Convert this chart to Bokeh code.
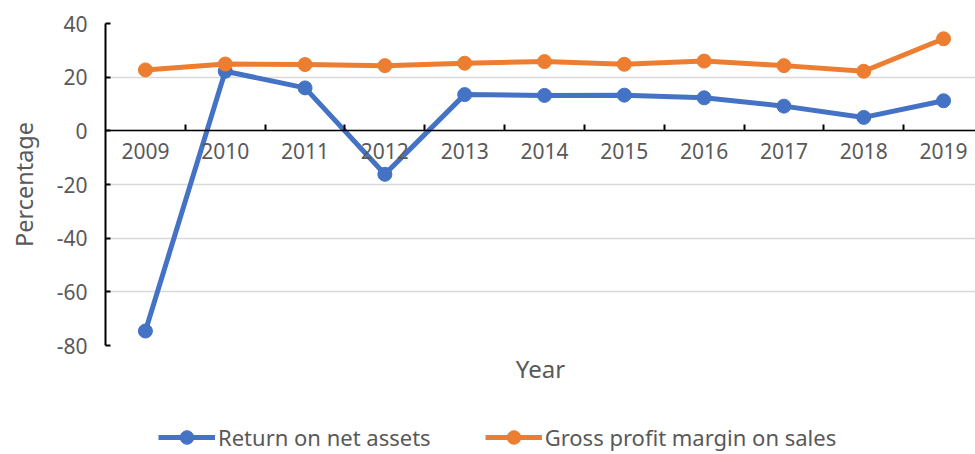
from bokeh.plotting import figure
from bokeh.layouts import column
from bokeh.models import Range1d, FixedTicker, Legend, LegendItem, Title, PrintfTickFormatter
from bokeh.embed import file_html
from bokeh.resources import INLINE

years = [2009, 2010, 2011, 2012, 2013, 2014, 2015, 2016, 2017, 2018, 2019]
return_on_net_assets = [-74.6, 22.2, 16.0, -16.2, 13.5, 13.2, 13.3, 12.3, 9.2, 5.0, 11.2]
gross_profit_margin = [22.7, 24.9, 24.7, 24.3, 25.2, 25.8, 24.8, 26.0, 24.3, 22.2, 34.3]
y_ticks = [-80, -60, -40, -20, 0, 20, 40]
series_names = ["Return on net assets", "Gross profit margin on sales"]
x_title = "Year"
y_title = "Percentage"

FONT = "Noto Sans"
GRAY = "#595959"
BLUE = "#4472C4"
ORANGE = "#ED7D31"

p = figure(width=975, height=400, output_backend="svg", toolbar_location=None,
           x_range=Range1d(2008.5, 2019.4), y_range=Range1d(-80, 40),
           min_border_left=105, min_border_right=0, min_border_top=23, min_border_bottom=55)
p.outline_line_color = None
p.xgrid.visible = False
p.ygrid.grid_line_color = "#D9D9D9"
p.ygrid.grid_line_width = 1.5

# y axis
p.yaxis.ticker = FixedTicker(ticks=y_ticks)
p.yaxis.formatter = PrintfTickFormatter(format="%d")
p.yaxis.axis_label = y_title
p.yaxis.axis_label_text_font = FONT
p.yaxis.axis_label_text_font_size = "23.5px"
p.yaxis.axis_label_text_font_style = "normal"
p.yaxis.axis_label_text_color = GRAY
p.yaxis.axis_label_standoff = 14
p.yaxis.major_label_text_font = FONT
p.yaxis.major_label_text_font_size = "21px"
p.yaxis.major_label_text_color = GRAY
p.yaxis.major_label_standoff = 18
p.yaxis.axis_line_color = "black"
p.yaxis.axis_line_width = 2
p.yaxis.major_tick_in = 5
p.yaxis.major_tick_out = 0
p.yaxis.major_tick_line_color = "black"
p.yaxis.major_tick_line_width = 2
p.yaxis.minor_tick_line_color = None

# x axis at y = 0
boundaries = [y + 0.5 for y in years[:-1]]
p.xaxis.ticker = FixedTicker(ticks=years, minor_ticks=boundaries)
p.xaxis.fixed_location = 0
p.xaxis.major_label_text_font = FONT
p.xaxis.major_label_text_font_size = "21px"
p.xaxis.major_label_text_color = GRAY
p.xaxis.major_label_standoff = 12
p.xaxis.major_tick_in = 0
p.xaxis.major_tick_out = 0
p.xaxis.minor_tick_in = 6
p.xaxis.minor_tick_out = 0
p.xaxis.minor_tick_line_color = "black"
p.xaxis.minor_tick_line_width = 2
p.xaxis.axis_line_color = "black"
p.xaxis.axis_line_width = 1.5

p.line(years, return_on_net_assets, line_color=BLUE, line_width=5)
p.scatter(years, return_on_net_assets, size=14, fill_color=BLUE, line_color=BLUE)
p.line(years, gross_profit_margin, line_color=ORANGE, line_width=5)
p.scatter(years, gross_profit_margin, size=14, fill_color=ORANGE, line_color=ORANGE)

p.add_layout(Title(text=x_title, align="center", text_font=FONT, text_font_size="24px",
                   text_font_style="normal", text_color=GRAY, standoff=8), "below")

# legend strip (its renderers lie outside the visible range; only the legend shows)
q = figure(width=975, height=54, output_backend="svg", toolbar_location=None,
           x_range=Range1d(0, 1), y_range=Range1d(0, 1),
           x_axis_location=None, y_axis_location=None,
           min_border_left=0, min_border_right=0, min_border_top=0, min_border_bottom=0)
q.outline_line_color = None
q.xgrid.visible = False
q.ygrid.visible = False
hidden = dict(x=[5, 6], y=[5, 6])
ql1 = q.line(x=hidden["x"], y=hidden["y"], line_color=BLUE, line_width=5)
qs1 = q.scatter(x=hidden["x"], y=hidden["y"], size=14, fill_color=BLUE, line_color=BLUE)
ql2 = q.line(x=hidden["x"], y=hidden["y"], line_color=ORANGE, line_width=5)
qs2 = q.scatter(x=hidden["x"], y=hidden["y"], size=14, fill_color=ORANGE, line_color=ORANGE)

legend = Legend(items=[LegendItem(label=series_names[0], renderers=[ql1, qs1]),
                       LegendItem(label=series_names[1], renderers=[ql2, qs2])],
                orientation="horizontal", location=(53, 0),
                label_text_font=FONT, label_text_font_size="22px", label_text_color=GRAY,
                glyph_width=57, glyph_height=34, spacing=54, label_standoff=3,
                border_line_color=None, background_fill_alpha=0, padding=0, margin=0)
q.add_layout(legend, "center")

open("out.html", "w").write(file_html(column(p, q, spacing=0), INLINE))
